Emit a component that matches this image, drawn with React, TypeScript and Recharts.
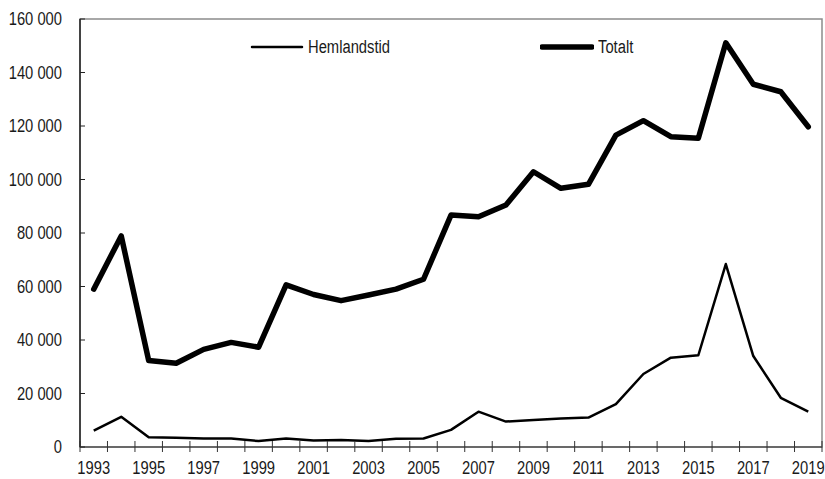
import {Line, LineChart, ReferenceArea, XAxis, YAxis} from "recharts";


const years = [
    1993, 1994, 1995, 1996, 1997, 1998, 1999, 2000, 2001, 2002, 2003, 2004, 2005, 2006,
    2007, 2008, 2009, 2010, 2011, 2012, 2013, 2014, 2015, 2016, 2017, 2018, 2019,
];

const hemlandstid = [
    6100, 11300, 3600, 3500, 3200, 3200, 2200, 3200, 2400, 2600, 2200, 3100, 3200, 6400,
    13200, 9500, 10100, 10700, 11000, 16000, 27300, 33400, 34300, 68400, 34000, 18400, 13200,
];

const totalt = [
    59000, 78900, 32300, 31300, 36500, 39100, 37300, 60600, 57000, 54700, 56800, 59000, 62700, 86700,
    86100, 90500, 102900, 96700, 98200, 116600, 122000, 116000, 115400, 151100, 135600, 132800, 119700,
];

const yTicks = [0, 20000, 40000, 60000, 80000, 100000, 120000, 140000, 160000];
const labelYears = years.filter((y) => (y - 1993) % 2 === 0);
// tick marks sit between the years (spreadsheet style), labels on every other year
const boundaryTicks = [...years.map((y) => y - 0.5), 2019.5];
const xTicks = [...boundaryTicks, ...labelYears].sort((a, b) => a - b);
const xDomain = [1992.5, 2019.5];

const FONT = "'Liberation Sans', Arial, sans-serif";
const FONT_SIZE = 18;
const TEXT_COLOR = "#1a1a1a";
// the reference uses a narrow face; squeeze a regular one horizontally
const NARROW = 0.82;

const data = years.map((year, i) => ({
    year,
    hemlandstid: hemlandstid[i],
    totalt: totalt[i],
}));

function formatThousands(v: number) {
    return String(v).replace(/\B(?=(\d{3})+(?!\d))/g, " ");
}

function NarrowText(props: { x: number, y: number, anchor: string, children: any }) {
    return <g transform={`translate(${props.x},${props.y}) scale(${NARROW},1)`}>
        <text x={0} y={0} textAnchor={props.anchor} fontSize={FONT_SIZE} fill={TEXT_COLOR} fontFamily={FONT}>
            {props.children}
        </text>
    </g>
}

function YTick(props: any) {
    const {x, y, payload} = props;
    return <g>
        <line x1={x} x2={x + 5} y1={y} y2={y} stroke="#222" strokeWidth={1}/>
        <NarrowText x={x - 18} y={y + 6} anchor="end">{formatThousands(payload.value)}</NarrowText>
    </g>
}

function XTick(props: any) {
    const {x, y, payload} = props;
    if (!Number.isInteger(payload.value)) {
        return <line x1={x} x2={x} y1={y - 6} y2={y + 5} stroke="#333" strokeWidth={1}/>
    }
    return <NarrowText x={x} y={y + 27} anchor="middle">{payload.value}</NarrowText>
}

const legendItems = [
    {label: "Hemlandstid", width: 2.5, left: 250},
    {label: "Totalt", width: 5.5, left: 540},
];

function ChartLegend() {
    return <>
        {legendItems.map((item) => (
            <div key={item.label} style={{position: "absolute", left: item.left, top: 37, display: "flex", alignItems: "center"}}>
                <svg width={54} height={20}>
                    <line x1={2} x2={52} y1={10} y2={10} stroke="#000" strokeWidth={item.width} strokeLinecap="round"/>
                </svg>
                <span style={{
                    fontFamily: FONT, fontSize: FONT_SIZE, color: TEXT_COLOR, marginLeft: 4, lineHeight: "20px",
                    display: "inline-block", transform: `scaleX(${NARROW})`, transformOrigin: "left center",
                    whiteSpace: "nowrap",
                }}>
                    {item.label}
                </span>
            </div>
        ))}
    </>
}

export default function App() {
    return <div style={{position: "relative", width: 825, height: 479}}>
        <style>{`body { margin: 0; }`}</style>
        <LineChart width={825} height={479} data={data} margin={{top: 19, right: 3, bottom: 0, left: 0}}>
            {/* grey frame round the plot; the axes draw over its left and bottom edges */}
            <ReferenceArea
                x1={xDomain[0]}
                x2={xDomain[1]}
                y1={0}
                y2={160000}
                fill="none"
                fillOpacity={0}
                stroke="#8c8c8c"
                strokeWidth={1.5}
            />
            <XAxis
                type="number"
                dataKey="year"
                domain={xDomain}
                allowDataOverflow
                ticks={xTicks}
                interval={0}
                height={32}
                tickSize={0}
                tickMargin={0}
                tickLine={false}
                tick={<XTick/>}
                stroke="#555"
                strokeWidth={1.5}
            />
            <YAxis
                domain={[0, 160000]}
                allowDataOverflow
                ticks={yTicks}
                interval={0}
                width={80}
                tickSize={0}
                tickMargin={0}
                tickLine={false}
                tick={<YTick/>}
                stroke="#222"
                strokeWidth={1.5}
            />
            <Line
                dataKey="hemlandstid"
                name="Hemlandstid"
                stroke="#000"
                strokeWidth={2.5}
                strokeLinejoin="round"
                dot={false}
                isAnimationActive={false}
            />
            <Line
                dataKey="totalt"
                name="Totalt"
                stroke="#000"
                strokeWidth={5.5}
                strokeLinejoin="round"
                strokeLinecap="round"
                dot={false}
                isAnimationActive={false}
            />
        </LineChart>
        <ChartLegend/>
    </div>
}
